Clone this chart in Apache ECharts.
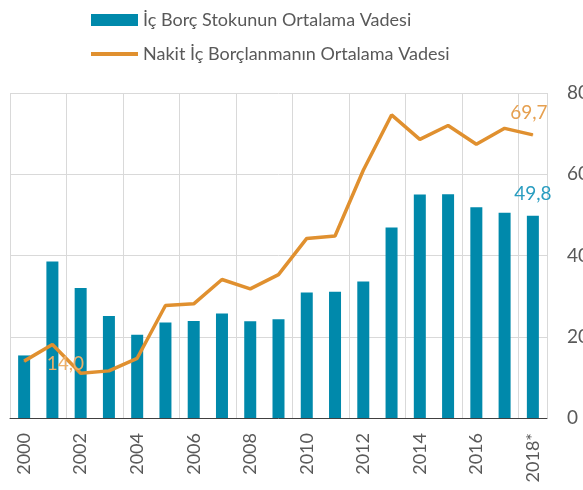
<!DOCTYPE html>
<html>
<head>
<meta charset="utf-8">
<script src="https://cdn.jsdelivr.net/npm/echarts@6/dist/echarts.min.js"></script>
<style>
  html, body { margin: 0; padding: 0; background: #fff; }
  #chart { width: 583px; height: 490px; }
</style>
</head>
<body>
<div id="chart"></div>
<script>
// yillar (2018 tahmini)
var years = ['2000', '2001', '2002', '2003', '2004', '2005', '2006', '2007', '2008', '2009',
             '2010', '2011', '2012', '2013', '2014', '2015', '2016', '2017', '2018*'];
// ic borc stokunun ortalama vadesi (ay)
var stokVade = [15.4, 38.5, 32.0, 25.1, 20.5, 23.5, 23.9, 25.7, 23.8, 24.3,
                30.9, 31.1, 33.6, 46.9, 55.0, 55.1, 51.9, 50.5, 49.8];
// nakit ic borclanmanin ortalama vadesi (ay)
var nakitVade = [14.0, 18.1, 11.0, 11.6, 14.7, 27.7, 28.1, 34.1, 31.8, 35.3,
                 44.2, 44.8, 61.0, 74.6, 68.6, 72.0, 67.4, 71.3, 69.7];
var yTicks = { min: 0, max: 80, step: 20 };

var barName = 'İç Borç Stokunun Ortalama Vadesi';
var lineName = 'Nakit İç Borçlanmanın Ortalama Vadesi';

var fmt = function (v) { return v.toFixed(1).replace('.', ','); };
var lastIdx = years.length - 1;

var myChart = echarts.init(document.getElementById('chart'));
var option = {
  animation: false,
  textStyle: { fontFamily: 'Lato' },
  legend: {
    orient: 'vertical',
    left: 86,
    top: 6,
    itemWidth: 47,
    itemHeight: 12,
    itemGap: 16,
    textStyle: { fontSize: 18, color: '#595959' },
    data: [
      { name: barName, icon: 'rect' },
      { name: lineName, icon: 'path://M0,0 H48 V4 H0 Z', itemStyle: { color: '#e0902f' } }
    ]
  },
  grid: { left: 10, right: 36, top: 93, bottom: 72, outerBoundsMode: 'none' },
  xAxis: {
    type: 'category',
    data: years,
    boundaryGap: true,
    axisLine: { lineStyle: { color: '#404040', width: 1 } },
    axisTick: { interval: 1, length: 6, lineStyle: { color: '#404040' } },
    axisLabel: { interval: 1, rotate: 90, fontSize: 18, color: '#595959', margin: 15 },
    splitLine: { show: true, interval: 1, lineStyle: { color: '#d9d9d9', width: 1 } }
  },
  yAxis: {
    type: 'value',
    position: 'right',
    min: yTicks.min,
    max: yTicks.max,
    interval: yTicks.step,
    axisLine: { show: false },
    axisTick: { show: false },
    axisLabel: { fontSize: 19, color: '#595959', margin: 20 },
    splitLine: { lineStyle: { color: '#d9d9d9', width: 1 } }
  },
  series: [
    {
      name: barName,
      type: 'bar',
      barWidth: 12,
      itemStyle: { color: '#0089ab' },
      data: stokVade.map(function (v, i) {
        if (i !== lastIdx) return v;
        return {
          value: v,
          label: { show: true, position: 'top', distance: 12, fontSize: 19,
                   color: '#2a9dc0', formatter: function (p) { return fmt(p.value); } }
        };
      })
    },
    {
      name: lineName,
      type: 'line',
      symbol: 'circle',
      symbolSize: 1,
      showSymbol: true,
      lineStyle: { color: '#e0902f', width: 3.5 },
      itemStyle: { color: '#e0902f' },
      data: nakitVade.map(function (v, i) {
        if (i === 0) {
          return {
            value: v,
            label: { show: true, position: 'right', distance: 22, offset: [0, 3], fontSize: 19,
                     color: '#ecb06a', formatter: function (p) { return fmt(p.value); } }
          };
        }
        if (i === lastIdx) {
          return {
            value: v,
            label: { show: true, position: 'top', distance: 12, offset: [-4, 0], fontSize: 19,
                     color: '#e6a050', formatter: function (p) { return fmt(p.value); } }
          };
        }
        return v;
      })
    }
  ]
};
myChart.setOption(option);
</script>
</body>
</html>
